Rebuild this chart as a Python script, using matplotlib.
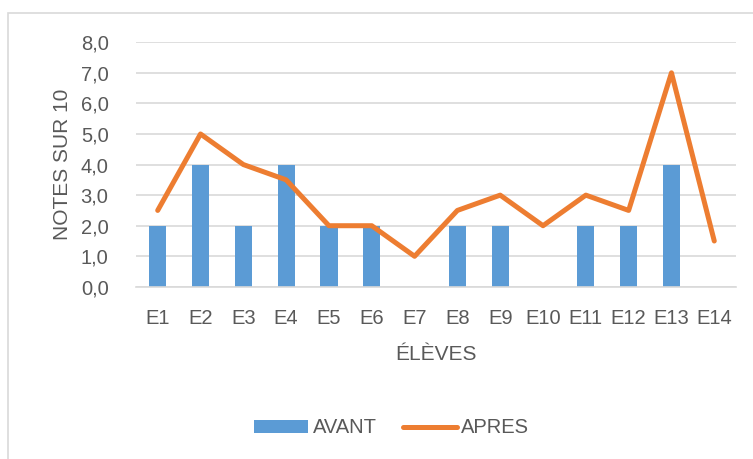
import matplotlib.pyplot as plt
import matplotlib.patches as mpatches
import numpy as np
from matplotlib.ticker import FuncFormatter

eleves = ['E1', 'E2', 'E3', 'E4', 'E5', 'E6', 'E7', 'E8', 'E9', 'E10', 'E11', 'E12', 'E13', 'E14']
avant = [2, 4, 2, 4, 2, 2, 0, 2, 2, 0, 2, 2, 4, 0]
apres = [2.5, 5, 4, 3.5, 2, 2, 1, 2.5, 3, 2, 3, 2.5, 7, 1.5]

grey = '#595959'
plt.rcParams['font.family'] = ['Liberation Sans', 'DejaVu Sans']

fig = plt.figure(figsize=(7.53, 4.59), dpi=100)
ax = fig.add_axes([0.181, 0.375, 0.796, 0.533])

x = np.arange(len(eleves))
bars = ax.bar(x, avant, width=0.4, color='#5B9BD5', label='AVANT', zorder=2)
line, = ax.plot(x, apres, color='#ED7D31', linewidth=3.6, solid_capstyle='round',
                solid_joinstyle='round', label='APRES', zorder=3)

ax.set_xlim(-0.5, len(eleves) - 0.5)
ax.set_ylim(0, 8)
ax.set_yticks(range(0, 9))
ax.yaxis.set_major_formatter(FuncFormatter(lambda v, p: f'{v:.1f}'.replace('.', ',')))
ax.set_xticks(x)
ax.set_xticklabels(eleves)
ax.grid(axis='y', color='#D9D9D9', linewidth=1.2, zorder=0)
ax.set_axisbelow(True)
for s in ['top', 'right', 'left']:
    ax.spines[s].set_visible(False)
ax.spines['bottom'].set_color('#D9D9D9')
ax.spines['bottom'].set_linewidth(1.2)
ax.tick_params(length=0, labelsize=14.5, colors=grey)
ax.tick_params(axis='x', pad=16)
ax.tick_params(axis='y', pad=20)

ax.set_xlabel('ÉLÈVES', fontsize=15, color=grey, labelpad=12)
ax.set_ylabel('NOTES SUR 10', fontsize=15, color=grey, labelpad=6)

fig.legend([bars, line], ['AVANT', 'APRES'], loc='center',
           bbox_to_anchor=(0.52, 0.068), ncol=2, frameon=False,
           fontsize=14.5, labelcolor=grey, handlelength=2.7, handleheight=0.6,
           handletextpad=0.2, columnspacing=1.3)

fig.patches.append(mpatches.Rectangle((8 / 753, -0.1), 1.2, 1 - 13 / 459 + 0.1,
                                      transform=fig.transFigure, fill=False,
                                      edgecolor='#D9D9D9', linewidth=1.2))

plt.savefig('out.png', dpi=100)
plt.close()
